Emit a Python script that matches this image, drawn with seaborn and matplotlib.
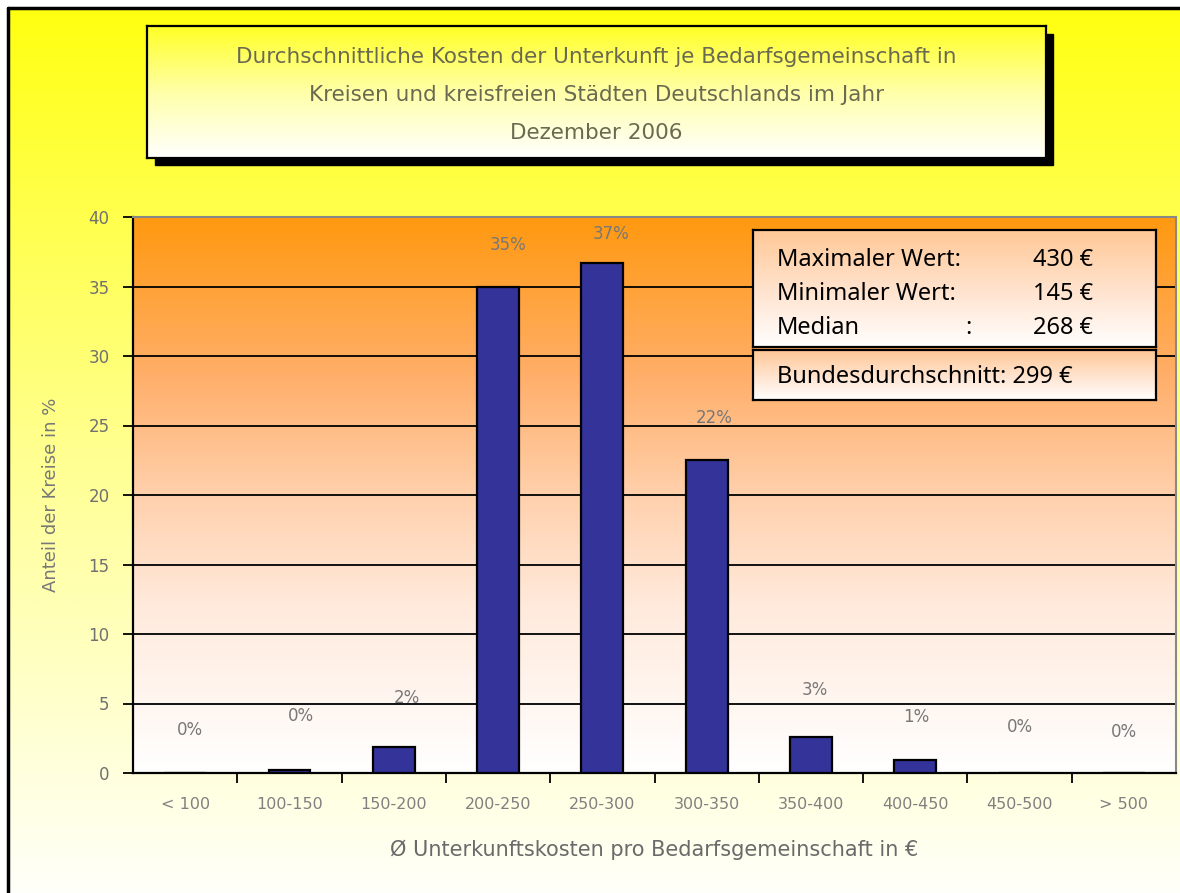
import numpy as np
import matplotlib
matplotlib.use("Agg")
import matplotlib.pyplot as plt
from matplotlib.colors import LinearSegmentedColormap
from matplotlib.patches import Rectangle
import seaborn as sns

sns.set_theme(style="white")
plt.rcParams["font.family"] = ["DejaVu Sans"]

# ---- data -------------------------------------------------------------
categories = ["< 100", "100-150", "150-200", "200-250", "250-300",
              "300-350", "350-400", "400-450", "450-500", "> 500"]
shares = [0.0, 0.2, 1.9, 35.0, 36.7, 22.5, 2.6, 0.9, 0.0, 0.0]
y_ticks = [0, 5, 10, 15, 20, 25, 30, 35, 40]

title_lines = ["Durchschnittliche Kosten der Unterkunft je Bedarfsgemeinschaft in",
               "Kreisen und kreisfreien Städten Deutschlands im Jahr",
               "Dezember 2006"]
x_title = "Ø Unterkunftskosten pro Bedarfsgemeinschaft in €"
y_title = "Anteil der Kreise in %"

stat_names = ["Maximaler Wert:", "Minimaler Wert:", "Median"]
stat_values = ["430 €", "145 €", "268 €"]
national_avg = "Bundesdurchschnitt: 299 €"

# ---- figure -----------------------------------------------------------
W, H = 1180, 893
fig = plt.figure(figsize=(W / 100, H / 100), dpi=100)
fig.patch.set_facecolor("white")


def fig_rect(x0, y0, x1, y1):
    """pixel box (top-left origin) -> figure fraction rect"""
    return [x0 / W, 1 - y1 / H, (x1 - x0) / W, (y1 - y0) / H]


def vgradient(ax, stops, z=0):
    """vertical colour ramp filling the whole axes, stops listed bottom->top"""
    cmap = LinearSegmentedColormap.from_list("g", stops)
    grad = np.linspace(0, 1, 256).reshape(-1, 1)
    ax.imshow(grad, cmap=cmap, aspect="auto", origin="lower",
              extent=(0, 1, 0, 1), transform=ax.transAxes, zorder=z,
              interpolation="bicubic")


def plain_box(ax):
    ax.set_xticks([])
    ax.set_yticks([])
    for s in ax.spines.values():
        s.set_color("black")
        s.set_linewidth(1.6)


# slide background: yellow fading to white, black frame on left/top
bg = fig.add_axes(fig_rect(7, 7, W + 2, H + 2))
vgradient(bg, ["#FFFFFA", "#FFFF90", "#FFFF12"])
bg.set_xlim(0, 1)
bg.set_ylim(0, 1)
bg.axis("off")
fig.add_artist(plt.Line2D([7.5 / W, 7.5 / W], [0, 1 - 7.5 / H], color="black",
                          lw=2.5, transform=fig.transFigure))
fig.add_artist(plt.Line2D([7.5 / W, 1], [1 - 7.5 / H, 1 - 7.5 / H], color="black",
                          lw=2.5, transform=fig.transFigure))

# title box with drop shadow
fig.add_artist(Rectangle((155 / W, 1 - 165 / H), (1053 - 155) / W, (165 - 34) / H,
                         transform=fig.transFigure, color="black", zorder=1))
tb = fig.add_axes(fig_rect(147, 26, 1046, 158), zorder=2)
vgradient(tb, ["#FFFFFF", "#FFFFA8", "#FFFF24"])
plain_box(tb)
for i, line in enumerate(title_lines):
    tb.text(0.5, 1 - (31 + 38 * i) / 132, line, ha="center", va="center",
            fontsize=15.5, color="#6a6a50", transform=tb.transAxes)

# ---- main chart -------------------------------------------------------
ax = fig.add_axes(fig_rect(133, 217, 1176, 773), zorder=3)
ax.set_facecolor("none")
vgradient(ax, [(0.0, "#FFFFFF"), (0.3, "#FFEADC"), (0.5, "#FFD0AC"),
               (0.72, "#FFAE68"), (1.0, "#FF9910")], z=0)

for v in y_ticks[1:]:
    ax.axhline(v, color="black", lw=1.3, zorder=1)

sns.barplot(x=categories, y=shares, order=categories, color="#333399",
            saturation=1, width=0.4, edgecolor="black", linewidth=1.6,
            ax=ax, zorder=3)

ax.set_xlim(-0.5, 9.5)
ax.set_ylim(0, 40)
ax.set_yticks(y_ticks)
ax.set_yticklabels([str(t) for t in y_ticks], fontsize=12, color="#707070")
ax.set_xticks(range(len(categories)))
ax.set_xticklabels(categories, fontsize=11.5, color="#808080")
ax.set_xticks(np.arange(0.5, len(categories) - 0.5, 1), minor=True)
ax.tick_params(axis="x", which="major", length=0, pad=17)
ax.tick_params(axis="x", which="minor", length=7, width=1.3, color="black",
               direction="out", bottom=True)
ax.tick_params(axis="y", length=7, width=1.3, color="black", direction="out",
               left=True, pad=10)
ax.set_xlabel(x_title, fontsize=15, color="#6a6a6a", labelpad=20)
ax.set_ylabel(y_title, fontsize=13, color="#777777", labelpad=20)
ax.spines["left"].set_color("black")
ax.spines["left"].set_linewidth(1.6)
ax.spines["bottom"].set_color("black")
ax.spines["bottom"].set_linewidth(1.6)
ax.spines["top"].set_color("#888888")
ax.spines["top"].set_linewidth(1.5)
ax.spines["right"].set_color("#888888")
ax.spines["right"].set_linewidth(1.5)

# value labels above the bars (pixel lift / shift of each label)
label_lift = [43, 54, 49, 42, 29, 42, 47, 43, 46, 41]
label_shift = [5, 11, 13, 10, 9, 8, 4, 1, 0, 0]
for i, v in enumerate(shares):
    ax.annotate(f"{v:.0f}%", xy=(i, v),
                xytext=(label_shift[i] * 0.72, label_lift[i] * 0.72),
                textcoords="offset points", ha="center", va="center",
                fontsize=12, color="#777777", zorder=5)

# ---- statistics boxes -------------------------------------------------
sb = fig.add_axes(fig_rect(753, 230, 1156, 347), zorder=6)
vgradient(sb, ["#FFFFFF", "#FFE2CC", "#FFC896"])
plain_box(sb)
sb.set_xlim(753, 1156)
sb.set_ylim(347, 230)
for i, (name, val) in enumerate(zip(stat_names, stat_values)):
    y = 260 + 34 * i
    sb.text(777, y, name, ha="left", va="center", fontsize=17,
            family="Noto Sans", color="black")
    sb.text(1093, y, val, ha="right", va="center", fontsize=17,
            family="Noto Sans", color="black")
sb.text(968, 260 + 68, ":", ha="center", va="center", fontsize=17,
        family="Noto Sans", color="black")

ab = fig.add_axes(fig_rect(753, 350, 1156, 400), zorder=6)
vgradient(ab, ["#FFFFFF", "#FFE2CC", "#FFC896"])
plain_box(ab)
ab.set_xlim(753, 1156)
ab.set_ylim(400, 350)
ab.text(777, 377, national_avg, ha="left", va="center", fontsize=17,
        family="Noto Sans", color="black")

fig.savefig("out.png", dpi=100)
